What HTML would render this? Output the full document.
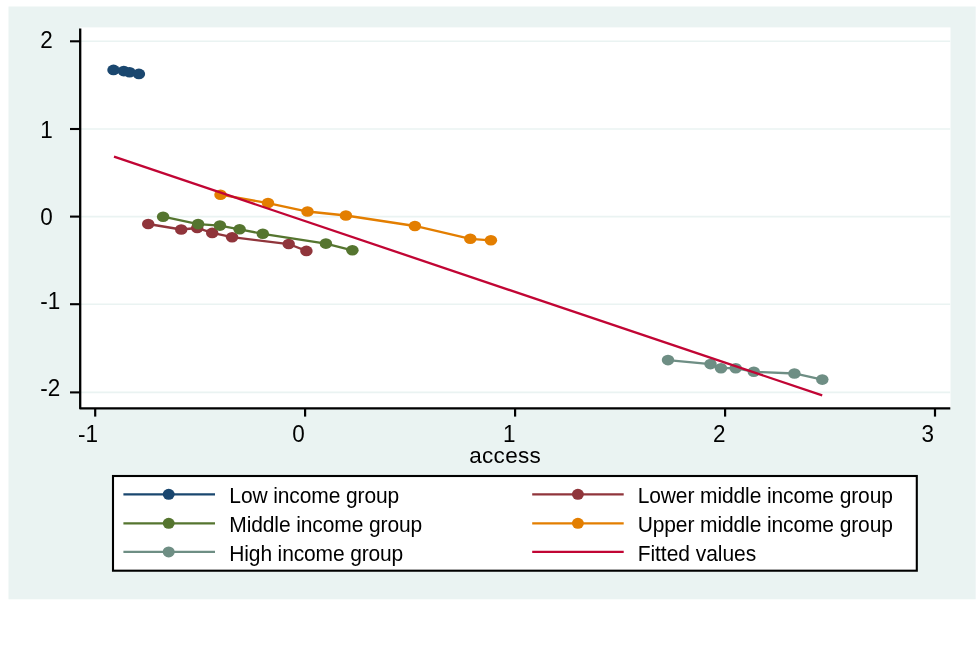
<!DOCTYPE html>
<html><head><meta charset="utf-8"><title>access</title>
<style>
html,body{margin:0;padding:0;background:#fff;}
svg{display:block;}
text{font-family:"Liberation Sans",Arial,Helvetica,sans-serif;fill:#000;}
</style></head><body>
<svg width="978" height="657" viewBox="0 0 978 657">
<rect x="8.5" y="6.5" width="967.2" height="592.8" fill="#EAF3F2"/>
<rect x="80" y="27.4" width="870.5" height="381" fill="#fff"/>
<line x1="81" x2="950.3" y1="41.3" y2="41.3" stroke="#EAF3F2" stroke-width="1.6"/>
<line x1="81" x2="950.3" y1="129.0" y2="129.0" stroke="#EAF3F2" stroke-width="1.6"/>
<line x1="81" x2="950.3" y1="216.6" y2="216.6" stroke="#EAF3F2" stroke-width="1.6"/>
<line x1="81" x2="950.3" y1="304.2" y2="304.2" stroke="#EAF3F2" stroke-width="1.6"/>
<line x1="81" x2="950.3" y1="392.4" y2="392.4" stroke="#EAF3F2" stroke-width="1.6"/>
<polyline fill="none" stroke="#1A476F" stroke-width="2.3" points="113.5,69.9 123.8,71.1 129.6,72.2 138.9,73.9"/><ellipse cx="113.5" cy="69.9" rx="6.25" ry="5.3" fill="#1A476F"/><ellipse cx="123.8" cy="71.1" rx="6.25" ry="5.3" fill="#1A476F"/><ellipse cx="129.6" cy="72.2" rx="6.25" ry="5.3" fill="#1A476F"/><ellipse cx="138.9" cy="73.9" rx="6.25" ry="5.3" fill="#1A476F"/>
<polyline fill="none" stroke="#90353B" stroke-width="2.3" points="148.2,224.0 181.2,229.5 197.2,228.0 212.2,232.9 232.1,237.2 288.7,244.0 306.4,250.9"/><ellipse cx="148.2" cy="224.0" rx="6.25" ry="5.3" fill="#90353B"/><ellipse cx="181.2" cy="229.5" rx="6.25" ry="5.3" fill="#90353B"/><ellipse cx="197.2" cy="228.0" rx="6.25" ry="5.3" fill="#90353B"/><ellipse cx="212.2" cy="232.9" rx="6.25" ry="5.3" fill="#90353B"/><ellipse cx="232.1" cy="237.2" rx="6.25" ry="5.3" fill="#90353B"/><ellipse cx="288.7" cy="244.0" rx="6.25" ry="5.3" fill="#90353B"/><ellipse cx="306.4" cy="250.9" rx="6.25" ry="5.3" fill="#90353B"/>
<polyline fill="none" stroke="#55752F" stroke-width="2.3" points="163.1,216.7 198.1,224.1 219.9,225.6 239.6,229.3 262.8,233.8 325.9,243.6 352.4,250.3"/><ellipse cx="163.1" cy="216.7" rx="6.25" ry="5.3" fill="#55752F"/><ellipse cx="198.1" cy="224.1" rx="6.25" ry="5.3" fill="#55752F"/><ellipse cx="219.9" cy="225.6" rx="6.25" ry="5.3" fill="#55752F"/><ellipse cx="239.6" cy="229.3" rx="6.25" ry="5.3" fill="#55752F"/><ellipse cx="262.8" cy="233.8" rx="6.25" ry="5.3" fill="#55752F"/><ellipse cx="325.9" cy="243.6" rx="6.25" ry="5.3" fill="#55752F"/><ellipse cx="352.4" cy="250.3" rx="6.25" ry="5.3" fill="#55752F"/>
<polyline fill="none" stroke="#E37E00" stroke-width="2.3" points="220.5,194.7 268.0,203.1 307.5,211.5 345.9,215.5 414.9,226.0 470.3,238.8 490.9,240.3"/><ellipse cx="220.5" cy="194.7" rx="6.25" ry="5.3" fill="#E37E00"/><ellipse cx="268.0" cy="203.1" rx="6.25" ry="5.3" fill="#E37E00"/><ellipse cx="307.5" cy="211.5" rx="6.25" ry="5.3" fill="#E37E00"/><ellipse cx="345.9" cy="215.5" rx="6.25" ry="5.3" fill="#E37E00"/><ellipse cx="414.9" cy="226.0" rx="6.25" ry="5.3" fill="#E37E00"/><ellipse cx="470.3" cy="238.8" rx="6.25" ry="5.3" fill="#E37E00"/><ellipse cx="490.9" cy="240.3" rx="6.25" ry="5.3" fill="#E37E00"/>
<polyline fill="none" stroke="#6E8E84" stroke-width="2.3" points="668.0,360.1 710.5,364.1 721.0,368.2 735.7,368.2 753.8,371.8 794.4,373.5 822.3,379.6"/><ellipse cx="668.0" cy="360.1" rx="6.25" ry="5.3" fill="#6E8E84"/><ellipse cx="710.5" cy="364.1" rx="6.25" ry="5.3" fill="#6E8E84"/><ellipse cx="721.0" cy="368.2" rx="6.25" ry="5.3" fill="#6E8E84"/><ellipse cx="735.7" cy="368.2" rx="6.25" ry="5.3" fill="#6E8E84"/><ellipse cx="753.8" cy="371.8" rx="6.25" ry="5.3" fill="#6E8E84"/><ellipse cx="794.4" cy="373.5" rx="6.25" ry="5.3" fill="#6E8E84"/><ellipse cx="822.3" cy="379.6" rx="6.25" ry="5.3" fill="#6E8E84"/>
<line x1="114.0" y1="156.7" x2="822.2" y2="395.4" stroke="#C10534" stroke-width="2.3"/>
<g stroke="#000" stroke-width="2.3" fill="none"><path d="M80.2 28.5V408.4H950.3" stroke-linejoin="round"/><line x1="70" x2="80.2" y1="41.3" y2="41.3" stroke-width="2.1"/><line x1="70" x2="80.2" y1="129.0" y2="129.0" stroke-width="2.1"/><line x1="70" x2="80.2" y1="216.6" y2="216.6" stroke-width="2.1"/><line x1="70" x2="80.2" y1="304.2" y2="304.2" stroke-width="2.1"/><line x1="70" x2="80.2" y1="392.4" y2="392.4" stroke-width="2.1"/><line y1="408.4" y2="416.6" x1="95.2" x2="95.2" stroke-width="2.2"/><line y1="408.4" y2="416.6" x1="305.1" x2="305.1" stroke-width="2.2"/><line y1="408.4" y2="416.6" x1="515.1" x2="515.1" stroke-width="2.2"/><line y1="408.4" y2="416.6" x1="725.1" x2="725.1" stroke-width="2.2"/><line y1="408.4" y2="416.6" x1="935.0" x2="935.0" stroke-width="2.2"/></g>
<text transform="translate(40.2,48.4) scale(1,1.05)" font-size="22.5">2</text><text transform="translate(40.2,137.7) scale(1,1.05)" font-size="22.5">1</text><text transform="translate(40.2,225.3) scale(1,1.05)" font-size="22.5">0</text><text transform="translate(40.2,308.9) scale(1,1.05)" font-size="22.5">-1</text><text transform="translate(40.2,396.4) scale(1,1.05)" font-size="22.5">-2</text><text transform="translate(78.0,441.6) scale(1,1.05)" font-size="22.5">-1</text><text transform="translate(292.3,441.6) scale(1,1.05)" font-size="22.5">0</text><text transform="translate(503.0,441.6) scale(1,1.05)" font-size="22.5">1</text><text transform="translate(713.0,441.6) scale(1,1.05)" font-size="22.5">2</text><text transform="translate(921.5,441.6) scale(1,1.05)" font-size="22.5">3</text><text transform="translate(469.3,462.8) scale(1,1.0)" font-size="22.5" textLength="71.4" lengthAdjust="spacing">access</text>
<rect x="113" y="476" width="803.8" height="94.7" fill="#fff" stroke="#000" stroke-width="2.1"/>
<line x1="123.4" x2="215.0" y1="494.3" y2="494.3" stroke="#1A476F" stroke-width="2.3"/><ellipse cx="168.7" cy="494.3" rx="6.0" ry="5.5" fill="#1A476F"/><line x1="123.4" x2="215.0" y1="523.3" y2="523.3" stroke="#55752F" stroke-width="2.3"/><ellipse cx="168.7" cy="523.3" rx="6.0" ry="5.5" fill="#55752F"/><line x1="123.4" x2="215.0" y1="551.9" y2="551.9" stroke="#6E8E84" stroke-width="2.3"/><ellipse cx="168.7" cy="551.9" rx="6.0" ry="5.5" fill="#6E8E84"/><line x1="532.2" x2="623.7" y1="494.3" y2="494.3" stroke="#90353B" stroke-width="2.3"/><ellipse cx="577.9" cy="494.3" rx="6.0" ry="5.5" fill="#90353B"/><line x1="532.2" x2="623.7" y1="523.3" y2="523.3" stroke="#E37E00" stroke-width="2.3"/><ellipse cx="577.9" cy="523.3" rx="6.0" ry="5.5" fill="#E37E00"/><line x1="532.2" x2="623.7" y1="551.9" y2="551.9" stroke="#C10534" stroke-width="2.3"/><text transform="translate(229.3,502.9) scale(1,1.03)" font-size="21" textLength="170.0" lengthAdjust="spacing">Low income group</text>
<text transform="translate(229.3,532.0) scale(1,1.03)" font-size="21" textLength="193.0" lengthAdjust="spacing">Middle income group</text>
<text transform="translate(229.3,561.3) scale(1,1.03)" font-size="21" textLength="174.0" lengthAdjust="spacing">High income group</text>
<text transform="translate(637.7,502.9) scale(1,1.03)" font-size="21" textLength="255.2" lengthAdjust="spacing">Lower middle income group</text>
<text transform="translate(637.7,532.0) scale(1,1.03)" font-size="21" textLength="255.2" lengthAdjust="spacing">Upper middle income group</text>
<text transform="translate(637.7,561.3) scale(1,1.03)" font-size="21" textLength="118.5" lengthAdjust="spacing">Fitted values</text>
</svg>
</body></html>
